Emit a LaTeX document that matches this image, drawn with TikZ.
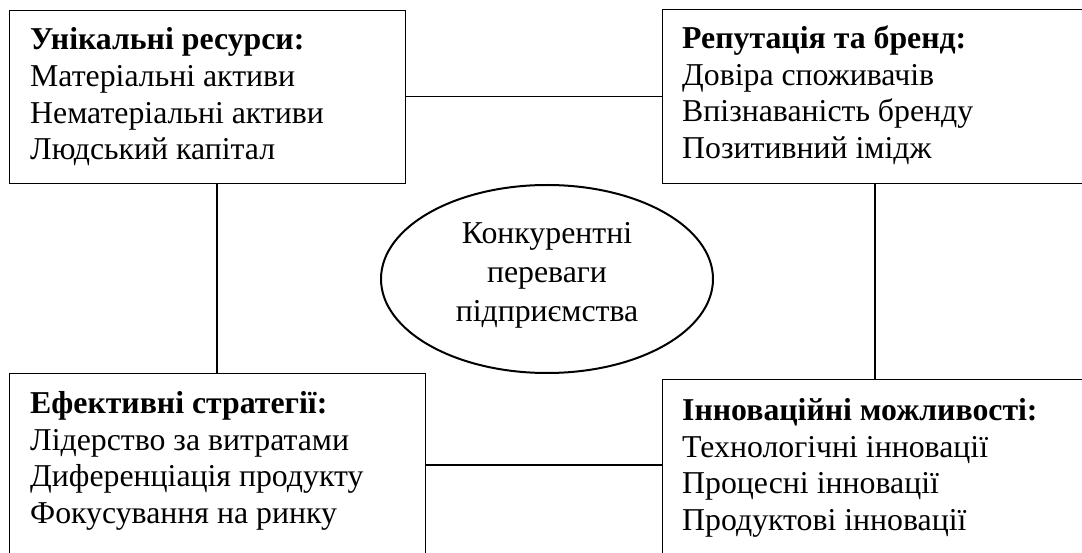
\documentclass[tikz,border=0pt]{standalone}
\usepackage{fontspec}
\setmainfont{Liberation Serif}
\usetikzlibrary{shapes.geometric,calc}
\tikzset{
  box/.style={draw=black, line width=1.2pt, anchor=north west, inner sep=0pt},
  txt/.style={anchor=base west, align=left, inner sep=0pt, font=\fontsize{31.8}{36.6}\selectfont},
  link/.style={draw=black, line width=1.2pt},
  ell/.style={draw=black, line width=2pt, ellipse, inner sep=0pt, minimum width=332pt, minimum height=188pt, align=center, font=\fontsize{31.8}{36.6}\selectfont}
}
\begin{document}
\begin{tikzpicture}[x=1pt,y=-1pt]
\useasboundingbox (0,0) rectangle (1082,553);
% boxes
\node[box, minimum width=396pt, minimum height=173pt] (ul) at (9,10) {};
\node[box, minimum width=440pt, minimum height=174pt] (ur) at (662,9) {};
\node[box, minimum width=416pt, minimum height=200pt] (bl) at (9,373) {};
\node[box, minimum width=440pt, minimum height=200pt] (br) at (662,379) {};
% texts (base anchor = baseline of the last line)
\node[txt] (ult) at (30,159.8) {\textbf{Унікальні ресурси:}\\Матеріальні активи\\Нематеріальні активи\\Людський капітал};
\node[txt] (urt) at (682,158.3) {\textbf{Репутація та бренд:}\\Довіра споживачів\\Впізнаваність бренду\\Позитивний імідж};
\node[txt] (blt) at (30,523.3) {\textbf{Ефективні стратегії:}\\Лідерство за витратами\\Диференціація продукту\\Фокусування на ринку};
\node[txt] (brt) at (682,530.3) {\textbf{Інноваційні можливості:}\\Технологічні інновації\\Процесні інновації\\Продуктові інновації};
% centre
\node[ell] (c) at (547,279) {};
\node[align=center, inner sep=0pt, anchor=base, font=\fontsize{31.8}{36.6}\selectfont] (ct) at (547,322) {Конкурентні\\[2.5pt]переваги\\[2.5pt]підприємства};
% connectors
\coordinate (ytop) at (0,96.7);
\coordinate (ybot) at (0,465);
\coordinate (xl) at (217,0);
\coordinate (xr) at (875,0);
\draw[link] (ul.east |- ytop) -- (ur.west |- ytop);
\draw[link] (bl.east |- ybot) -- (br.west |- ybot);
\draw[link] (ul.south -| xl) -- (bl.north -| xl);
\draw[link] (ur.south -| xr) -- (br.north -| xr);
\end{tikzpicture}
\end{document}
